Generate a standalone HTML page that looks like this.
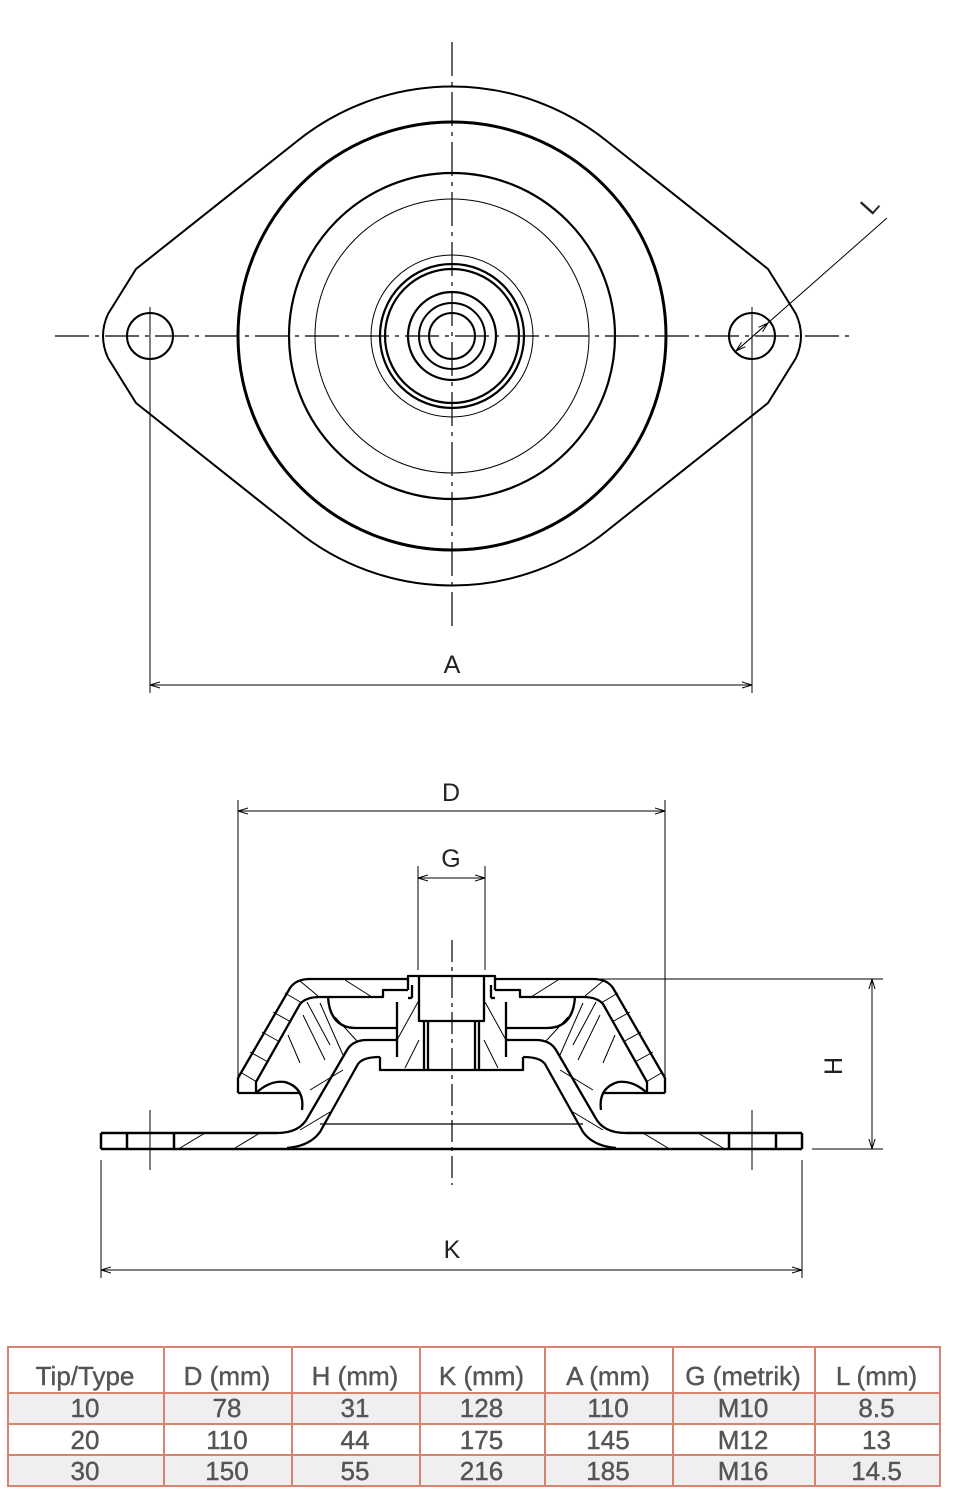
<!DOCTYPE html>
<html><head><meta charset="utf-8">
<style>
html,body{margin:0;padding:0;background:#fff;}
body{width:956px;height:1512px;position:relative;overflow:hidden;}
svg{position:absolute;left:0;top:0;}
.tb{position:absolute;font-family:"Liberation Sans Narrow","Liberation Sans",sans-serif;color:#555;}
.c{position:absolute;text-align:center;font-size:26px;line-height:1;-webkit-text-stroke:0.4px #555;}
.hl{position:absolute;background:#d9826e;}
.bg{position:absolute;background:#efefef;}
</style></head><body>
<svg width="956" height="1512" viewBox="0 0 956 1512" xmlns="http://www.w3.org/2000/svg">
<defs>
<marker id="ar" viewBox="0 0 10 10" refX="10" refY="5" markerWidth="10" markerHeight="10" orient="auto-start-reverse" markerUnits="userSpaceOnUse">
<path d="M0,2 L10,5 L0,8" fill="none" stroke="#000" stroke-width="1"/>
</marker>
</defs>
<g fill="none" stroke="#000" stroke-linejoin="round">
<path d="M296,142 A247,247 0 0 1 608,142 L768,269 L796,314 Q806,336 796,358 L768,403 L608,530 A247,247 0 0 1 296,530 L136,403 L108,358 Q98,336 108,314 L136,269 Z" stroke-width="2"/>
<circle cx="452" cy="336" r="214" stroke-width="3"/>
<circle cx="452" cy="336" r="163" stroke-width="2.2"/>
<circle cx="452" cy="336" r="137" stroke-width="1"/>
<circle cx="452" cy="336" r="81" stroke-width="1"/>
<circle cx="452" cy="336" r="72" stroke-width="2.2"/>
<circle cx="452" cy="336" r="67" stroke-width="2.2"/>
<circle cx="452" cy="336" r="44" stroke-width="2.2"/>
<circle cx="452" cy="336" r="33" stroke-width="2"/>
<circle cx="452" cy="336" r="23" stroke-width="2"/>
<circle cx="150" cy="336" r="23" stroke-width="2"/>
<circle cx="752" cy="336" r="23" stroke-width="2"/>
<line x1="452" y1="42" x2="452" y2="632" stroke-width="1.2" stroke-dasharray="34 6 4 6"/>
<line x1="55" y1="336" x2="850" y2="336" stroke-width="1.2" stroke-dasharray="34 6 4 6"/>
<line x1="150" y1="307" x2="150" y2="365" stroke-width="1"/>
<line x1="752" y1="307" x2="752" y2="365" stroke-width="1"/>
<line x1="150" y1="350" x2="150" y2="693" stroke-width="1"/>
<line x1="752" y1="350" x2="752" y2="693" stroke-width="1"/>
<line x1="150" y1="685" x2="752" y2="685" stroke-width="1" marker-start="url(#ar)" marker-end="url(#ar)"/>
<line x1="887" y1="218" x2="735" y2="352" stroke-width="1"/>
<line x1="768" y1="323" x2="736" y2="351" stroke-width="1" marker-start="url(#ar)" marker-end="url(#ar)"/>

<line x1="238" y1="800" x2="238" y2="1076" stroke-width="1"/>
<line x1="665" y1="800" x2="665" y2="1076" stroke-width="1"/>
<line x1="238" y1="811" x2="665" y2="811" stroke-width="1" marker-start="url(#ar)" marker-end="url(#ar)"/>
<line x1="418" y1="866" x2="418" y2="970" stroke-width="1"/>
<line x1="485" y1="866" x2="485" y2="970" stroke-width="1"/>
<line x1="418" y1="878" x2="485" y2="878" stroke-width="1" marker-start="url(#ar)" marker-end="url(#ar)"/>
<line x1="600" y1="979" x2="883" y2="979" stroke-width="1"/>
<line x1="812" y1="1149" x2="883" y2="1149" stroke-width="1"/>
<line x1="872" y1="979" x2="872" y2="1149" stroke-width="1" marker-start="url(#ar)" marker-end="url(#ar)"/>
<line x1="101" y1="1160" x2="101" y2="1278" stroke-width="1"/>
<line x1="802" y1="1160" x2="802" y2="1278" stroke-width="1"/>
<line x1="101" y1="1270" x2="802" y2="1270" stroke-width="1" marker-start="url(#ar)" marker-end="url(#ar)"/>
<line x1="452" y1="940" x2="452" y2="1185" stroke-width="1.2" stroke-dasharray="22 5 4 5"/>
<line x1="150" y1="1110" x2="150" y2="1170" stroke-width="1"/>
<line x1="752" y1="1110" x2="752" y2="1170" stroke-width="1"/>

<line x1="101" y1="1133" x2="277" y2="1133" stroke-width="2.5"/>
<line x1="626" y1="1133" x2="802" y2="1133" stroke-width="2.5"/>
<line x1="101" y1="1149" x2="802" y2="1149" stroke-width="2.5"/>
<line x1="101" y1="1133" x2="101" y2="1149" stroke-width="2.5"/>
<line x1="802" y1="1133" x2="802" y2="1149" stroke-width="2.5"/>
<line x1="127" y1="1133" x2="127" y2="1149" stroke-width="2.5"/>
<line x1="174" y1="1133" x2="174" y2="1149" stroke-width="2.5"/>
<line x1="729" y1="1133" x2="729" y2="1149" stroke-width="2.5"/>
<line x1="776" y1="1133" x2="776" y2="1149" stroke-width="2.5"/>
<line x1="320" y1="1124" x2="583" y2="1124" stroke-width="1.2"/>

<g id="half" stroke-width="2.3">
<path d="M238,1093 L238,1078 L290,988 Q296,979 310,979 L408,979"/>
<path d="M256,1093 L256,1082 L300,1004 Q306,997 320,997 L383,997 L383,990 L408,990"/>
<line x1="238" y1="1093" x2="300" y2="1093"/>
<path d="M328,997 Q330,1028 356,1028 L397,1028"/>
<line x1="367" y1="1040" x2="397" y2="1040"/>
<path d="M256,1093 Q270,1080 285,1082 Q305,1088 302,1110"/>
<path d="M277,1133 Q300,1133 308,1117 L347,1050 Q353,1040 367,1040"/>
<path d="M287,1148 Q310,1146 320,1132 L358,1064 Q363,1057 380,1057"/>
<line x1="397" y1="1002" x2="397" y2="1057"/>
<path d="M380,1057 L380,1070 L452,1070"/>
<path d="M408,990 L408,976 L452,976"/>
<path d="M412,998 L408,998"/>
<line x1="412" y1="985" x2="412" y2="998"/>
<path d="M419,976 L419,1021 L452,1021"/>
<line x1="424" y1="1021" x2="424" y2="1070"/>
<line x1="428" y1="1021" x2="428" y2="1070"/>
<g stroke-width="1">
<line x1="240" y1="1072" x2="257" y2="1082"/>
<line x1="250" y1="1052" x2="268" y2="1062"/>
<line x1="262" y1="1032" x2="280" y2="1042"/>
<line x1="273" y1="1012" x2="291" y2="1022"/>
<line x1="285" y1="993" x2="302" y2="1003"/>
<line x1="300" y1="981" x2="318" y2="996"/>
<line x1="345" y1="980" x2="372" y2="997"/>
<line x1="307" y1="1002" x2="330" y2="1045"/>
<line x1="303" y1="1015" x2="325" y2="1060"/>
<line x1="288" y1="1035" x2="300" y2="1063"/>
<line x1="320" y1="1003" x2="343" y2="1055"/>
<line x1="335" y1="1017" x2="357" y2="1041"/>
<line x1="310" y1="1090" x2="343" y2="1070"/>
<line x1="300" y1="1130" x2="330" y2="1112"/>
<line x1="180" y1="1148" x2="205" y2="1133"/>
<line x1="235" y1="1148" x2="260" y2="1133"/>
<line x1="397" y1="1040" x2="418" y2="1002"/>
<line x1="405" y1="1068" x2="419" y2="1040"/>
</g>
</g>
<use href="#half" transform="translate(903,0) scale(-1,1)"/>
</g>
<g font-family="Liberation Sans, sans-serif" font-size="25" fill="#222" text-anchor="middle">
<text x="452" y="673">A</text>
<text x="451" y="801">D</text>
<text x="451" y="867">G</text>
<text x="452" y="1258">K</text>
<text x="0" y="0" transform="translate(842,1066) rotate(-90)">H</text>
<text x="0" y="0" transform="translate(876,211) rotate(-48)">L</text>
</g>
</svg>

<div class="tb" style="left:0;top:0;width:956px;height:1512px;">
<div class="bg" style="left:7px;top:1393px;width:933px;height:31px;"></div>
<div class="bg" style="left:7px;top:1455px;width:933px;height:31px;"></div>
<div class="hl" style="left:7px;top:1346px;width:934px;height:1.5px;"></div>
<div class="hl" style="left:7px;top:1392px;width:934px;height:1.5px;"></div>
<div class="hl" style="left:7px;top:1423px;width:934px;height:1.5px;"></div>
<div class="hl" style="left:7px;top:1454px;width:934px;height:1.5px;"></div>
<div class="hl" style="left:7px;top:1485px;width:934px;height:1.5px;"></div>
<div class="hl" style="left:7px;top:1346px;width:1.5px;height:140px;"></div>
<div class="hl" style="left:163px;top:1346px;width:1.5px;height:140px;"></div>
<div class="hl" style="left:291px;top:1346px;width:1.5px;height:140px;"></div>
<div class="hl" style="left:419px;top:1346px;width:1.5px;height:140px;"></div>
<div class="hl" style="left:544px;top:1346px;width:1.5px;height:140px;"></div>
<div class="hl" style="left:672px;top:1346px;width:1.5px;height:140px;"></div>
<div class="hl" style="left:814px;top:1346px;width:1.5px;height:140px;"></div>
<div class="hl" style="left:939px;top:1346px;width:1.5px;height:140px;"></div>

<div class="c" style="left:7px;width:156px;top:1363px;">Tip/Type</div>
<div class="c" style="left:163px;width:128px;top:1363px;">D (mm)</div>
<div class="c" style="left:291px;width:128px;top:1363px;">H (mm)</div>
<div class="c" style="left:419px;width:125px;top:1363px;">K (mm)</div>
<div class="c" style="left:544px;width:128px;top:1363px;">A (mm)</div>
<div class="c" style="left:672px;width:142px;top:1363px;">G (metrik)</div>
<div class="c" style="left:814px;width:125px;top:1363px;">L (mm)</div>

<div class="c" style="left:7px;width:156px;top:1395px;">10</div>
<div class="c" style="left:163px;width:128px;top:1395px;">78</div>
<div class="c" style="left:291px;width:128px;top:1395px;">31</div>
<div class="c" style="left:419px;width:125px;top:1395px;">128</div>
<div class="c" style="left:544px;width:128px;top:1395px;">110</div>
<div class="c" style="left:672px;width:142px;top:1395px;">M10</div>
<div class="c" style="left:814px;width:125px;top:1395px;">8.5</div>

<div class="c" style="left:7px;width:156px;top:1427px;">20</div>
<div class="c" style="left:163px;width:128px;top:1427px;">110</div>
<div class="c" style="left:291px;width:128px;top:1427px;">44</div>
<div class="c" style="left:419px;width:125px;top:1427px;">175</div>
<div class="c" style="left:544px;width:128px;top:1427px;">145</div>
<div class="c" style="left:672px;width:142px;top:1427px;">M12</div>
<div class="c" style="left:814px;width:125px;top:1427px;">13</div>

<div class="c" style="left:7px;width:156px;top:1458px;">30</div>
<div class="c" style="left:163px;width:128px;top:1458px;">150</div>
<div class="c" style="left:291px;width:128px;top:1458px;">55</div>
<div class="c" style="left:419px;width:125px;top:1458px;">216</div>
<div class="c" style="left:544px;width:128px;top:1458px;">185</div>
<div class="c" style="left:672px;width:142px;top:1458px;">M16</div>
<div class="c" style="left:814px;width:125px;top:1458px;">14.5</div>
</div>
</body></html>
